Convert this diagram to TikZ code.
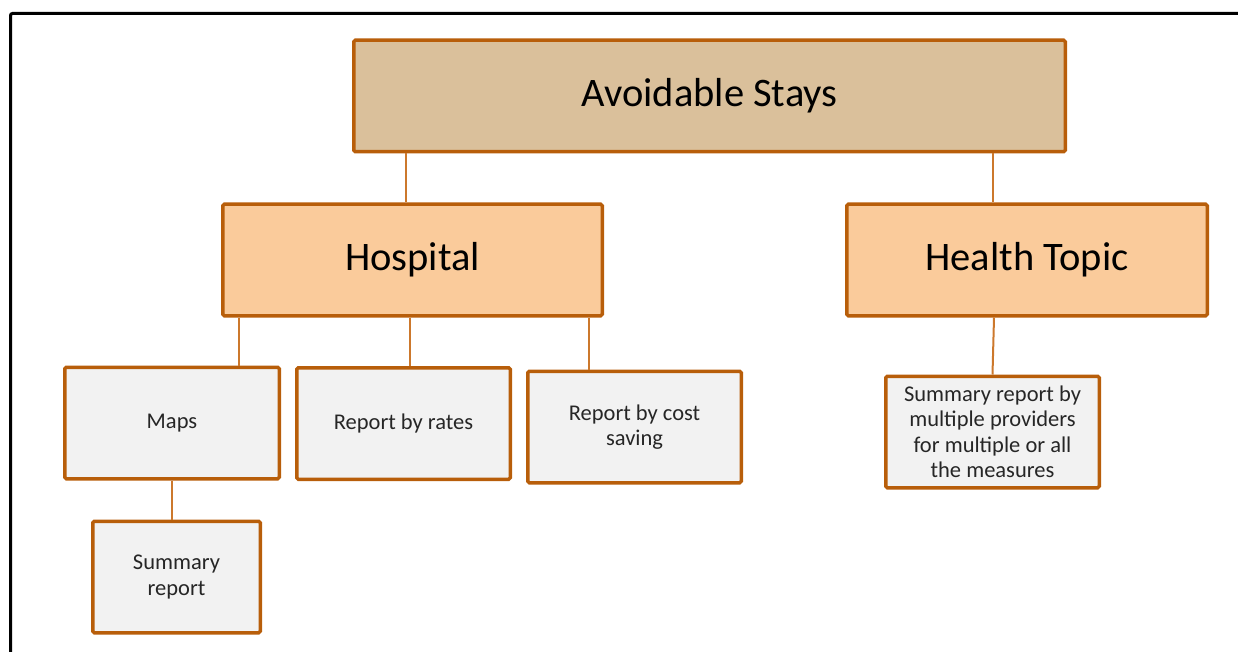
\documentclass[tikz,border=0pt]{standalone}
\usepackage{fontspec}
\setmainfont{Carlito}
\usetikzlibrary{shapes,arrows}

\definecolor{stayfill}{RGB}{218,192,155}
\definecolor{groupfill}{RGB}{250,203,155}
\definecolor{reportfill}{RGB}{242,242,242}
\definecolor{boxedge}{RGB}{184,94,10}
\definecolor{linkcol}{RGB}{204,120,44}
\definecolor{reporttext}{RGB}{38,38,38}

\begin{document}
\begin{tikzpicture}[node distance = 164pt, auto]
    % Define block styles
    \tikzstyle{block} = [rectangle, draw=boxedge, line width=3.5pt, align=center,
        rounded corners=1.5pt, inner sep=2pt, minimum height=111.5pt]
    \tikzstyle{topblock} = [block, fill=stayfill, minimum width=711.5pt,
        font=\fontsize{40.5}{48}\selectfont]
    \tikzstyle{groupblock} = [block, fill=groupfill,
        font=\fontsize{40.5}{48}\selectfont]
    \tikzstyle{report} = [block, fill=reportfill, minimum width=213.5pt,
        text=reporttext, font=\fontsize{22.5}{25.5}\selectfont]
    \tikzstyle{line} = [draw, color=linkcol, line width=2pt]

    \useasboundingbox (0,0) rectangle (1238pt,-652pt);
    \draw [line width=3pt, rounded corners=2pt] (10.5pt,-660pt) -- (10.5pt,-13.5pt) -- (1245pt,-13.5pt);

    % Top level
    \node [topblock] (stays) at (709.5pt,-96pt) {Avoidable Stays};
    \node [groupblock, below of=stays, xshift=-297pt, minimum width=379.5pt] (hospital) {Hospital};
    \node [groupblock, right of=hospital, node distance=614.5pt, minimum width=360.5pt] (topic) {Health Topic};

    % Hospital reports
    \node [report, below of=hospital, node distance=163pt, xshift=-240.5pt, minimum width=214.5pt] (maps) {Maps};
    \node [report, right of=maps, node distance=231.5pt, yshift=-0.5pt] (rates) {Report by rates};
    \node [report, right of=rates, node distance=231pt, yshift=-3.5pt] (saving) {Report by cost\\saving};
    \node [report, below of=maps, node distance=154pt, xshift=4.5pt, minimum width=167.5pt] (summary) {Summary\\report};

    % Health topic report
    \node [report, below of=topic, node distance=172pt, xshift=-34.5pt] (multi) {Summary report by\\multiple providers\\for multiple or all\\the measures};

    % Paths
    \path [line] ([xshift=-6.5pt]hospital.north |- stays.south) -- ([xshift=-6.5pt]hospital.north);
    \path [line] (multi.north |- stays.south) -- (multi.north |- topic.north);
    \path [line] ([xshift=1.5pt]multi.north |- topic.south) -- (multi.north);
    \path [line] ([xshift=-173.5pt]hospital.south) -- ([xshift=-173.5pt]hospital.south |- maps.north);
    \path [line] ([xshift=-2.5pt]hospital.south) -- ([xshift=-2.5pt]hospital.south |- rates.north);
    \path [line] ([xshift=176.5pt]hospital.south) -- ([xshift=176.5pt]hospital.south |- saving.north);
    \path [line] (maps.south) -- (maps.south |- summary.north);

\end{tikzpicture}
\end{document}
